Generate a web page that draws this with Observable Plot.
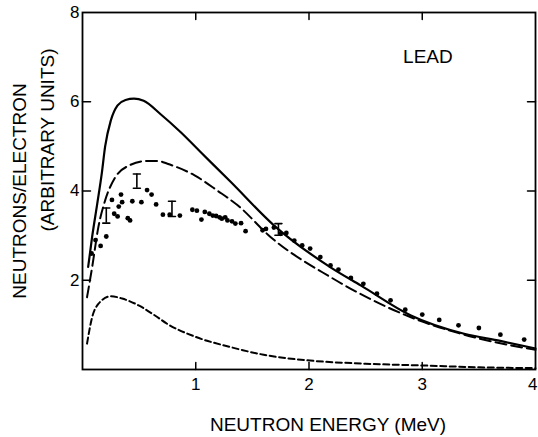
<!DOCTYPE html>
<html><head><meta charset="utf-8">
<script src="https://cdn.jsdelivr.net/npm/d3@7"></script>
<script src="https://cdn.jsdelivr.net/npm/@observablehq/plot@0.6"></script>
<style>body{margin:0;background:#fff} svg{font-family:"Liberation Sans",Arial,sans-serif}</style>
</head><body><div id="chart"></div>
<script>
// Solid curve
const solidX = [0.05,0.085,0.13,0.17,0.20,0.25,0.31,0.38,0.455,0.54,0.69,0.87,1.04,1.31,1.69,2.19,2.46,2.90,3.37,3.69,4.0];
const solidY = [2.3,2.97,3.71,4.39,5.0,5.58,5.92,6.04,6.07,6.02,5.72,5.31,4.88,4.20,3.23,2.29,1.88,1.21,0.80,0.64,0.47];
// Long-dashed curve
const longX = [0.04,0.085,0.14,0.20,0.29,0.41,0.56,0.67,0.75,0.99,1.19,1.37,1.66,2.19,2.90,3.37,4.0];
const longY = [1.62,2.29,3.19,3.79,4.31,4.57,4.67,4.67,4.61,4.35,4.01,3.68,2.97,2.07,1.17,0.78,0.44];
// Short-dashed curve
const shortX = [0.04,0.085,0.14,0.25,0.35,0.50,0.64,0.75,1.0,1.31,1.6,2.01,2.5,3.01,3.5,4.0];
const shortY = [0.58,1.17,1.47,1.64,1.59,1.43,1.21,1.02,0.73,0.50,0.33,0.20,0.13,0.09,0.05,0.03];
// Measured points
const dotX = [0.08,0.115,0.16,0.21,0.26,0.28,0.31,0.32,0.34,0.35,0.40,0.42,0.44,0.52,0.57,0.61,0.65,0.71,0.77,0.86,0.97,1.01,1.05,1.08,1.12,1.15,1.18,1.21,1.23,1.26,1.28,1.32,1.35,1.40,1.44,1.59,1.62,1.69,1.75,1.80,1.87,1.94,2.01,2.10,2.19,2.26,2.37,2.48,2.60,2.72,2.85,3.00,3.15,3.32,3.50,3.69,3.90];
const dotY = [2.6,2.9,2.77,2.98,3.80,3.49,3.43,3.65,3.92,3.75,3.39,3.34,3.77,3.75,4.02,3.92,3.70,3.47,3.47,3.45,3.58,3.56,3.36,3.53,3.49,3.45,3.44,3.41,3.38,3.41,3.34,3.32,3.27,3.28,3.10,3.12,3.15,3.18,3.04,3.06,2.89,2.78,2.71,2.52,2.33,2.24,2.05,1.92,1.70,1.55,1.34,1.23,1.11,0.99,0.93,0.78,0.67];
// Error bars
const errX = [0.21,0.48,0.79,1.73];
const errY = [3.45,4.22,3.60,3.14];
const errE = [0.17,0.16,0.17,0.13];
// Ticks
const yTickLabels = [2,4,6,8];
const xTickLabels = [1,2,3];
const xLastTickLabel = [4];
const innerYTicks = [2,4,6];
const innerXTicks = [1,2,3];
const title = "LEAD";
const titleX = 3.05, titleY = 7.0;
const xLabel = "NEUTRON ENERGY (MeV)";
const yLabel1 = "NEUTRONS/ELECTRON";
const yLabel2 = "(ARBITRARY UNITS)";

const zip = (xs, ys) => xs.map((x, i) => ({x, y: ys[i]}));
const solid = zip(solidX, solidY);
const longD = zip(longX, longY);
const shortD = zip(shortX, shortY);
const dots = zip(dotX, dotY);
const errs = errX.map((x, i) => ({x, y: errY[i], lo: errY[i] - errE[i], hi: errY[i] + errE[i]}));
const seg = {draw(ctx, l) { ctx.moveTo(0, 0); ctx.lineTo(0, -l); }};

const chart = Plot.plot({
  width: 538, height: 437,
  marginLeft: 82, marginRight: 3, marginTop: 12, marginBottom: 68,
  style: {fontFamily: '"Liberation Sans", Arial, sans-serif', fontSize: "17px", color: "black", background: "white"},
  x: {domain: [0, 4]},
  y: {domain: [0, 8]},
  marks: [
    Plot.line(shortD, {x: "x", y: "y", stroke: "black", strokeWidth: 2, strokeDasharray: "6,3.5", curve: "monotone-x"}),
    Plot.line(longD, {x: "x", y: "y", stroke: "black", strokeWidth: 2, strokeDasharray: "11,5", curve: "monotone-x"}),
    Plot.line(solid, {x: "x", y: "y", stroke: "black", strokeWidth: 2.2, curve: "monotone-x"}),
    Plot.dot(dots, {x: "x", y: "y", r: 2.4, fill: "black", stroke: null}),
    Plot.ruleX(errs, {x: "x", y1: "lo", y2: "hi", stroke: "black", strokeWidth: 1.6}),
    Plot.vector(errs, {x: "x", y: "lo", rotate: 90, length: 7, anchor: "middle", shape: seg, stroke: "black", strokeWidth: 1.6}),
    Plot.vector(errs, {x: "x", y: "hi", rotate: 90, length: 7, anchor: "middle", shape: seg, stroke: "black", strokeWidth: 1.6}),
    Plot.vector(innerYTicks, {x: 0, y: d => d, rotate: 90, length: 8, anchor: "start", shape: seg, stroke: "black", strokeWidth: 1.5}),
    Plot.vector(innerYTicks, {x: 4, y: d => d, rotate: -90, length: 8, anchor: "start", shape: seg, stroke: "black", strokeWidth: 1.5}),
    Plot.vector(innerXTicks, {x: d => d, y: 0, rotate: 0, length: 7, anchor: "start", shape: seg, stroke: "black", strokeWidth: 1.5}),
    Plot.vector(innerXTicks, {x: d => d, y: 8, rotate: 180, length: 7, anchor: "start", shape: seg, stroke: "black", strokeWidth: 1.5}),
    Plot.frame({stroke: "black", strokeWidth: 1.8}),
    Plot.axisY(yTickLabels, {tickSize: 0, tickPadding: 3, fontSize: 17, label: null, tickFormat: "d"}),
    Plot.axisX(xTickLabels, {tickSize: 0, tickPadding: 8, fontSize: 17, label: null, tickFormat: "d"}),
    Plot.axisX(xLastTickLabel, {tickSize: 0, tickPadding: 8, fontSize: 17, label: null, tickFormat: "d", textAnchor: "end", dx: 2}),
    Plot.text([title], {x: titleX, y: titleY, text: d => d, fontSize: 19, lineAnchor: "middle", textAnchor: "middle"}),
    Plot.text([xLabel], {frameAnchor: "bottom", text: d => d, fontSize: 19, lineAnchor: "bottom", textAnchor: "middle", dx: 19, dy: 61}),
    Plot.text([yLabel1], {frameAnchor: "left", text: d => d, fontSize: 19, rotate: -90, lineAnchor: "bottom", textAnchor: "middle", dx: -57, dy: 0}),
    Plot.text([yLabel2], {frameAnchor: "left", text: d => d, fontSize: 19, rotate: -90, lineAnchor: "bottom", textAnchor: "middle", dx: -29, dy: -51})
  ]
});
document.getElementById("chart").appendChild(chart);
</script>
</body></html>
